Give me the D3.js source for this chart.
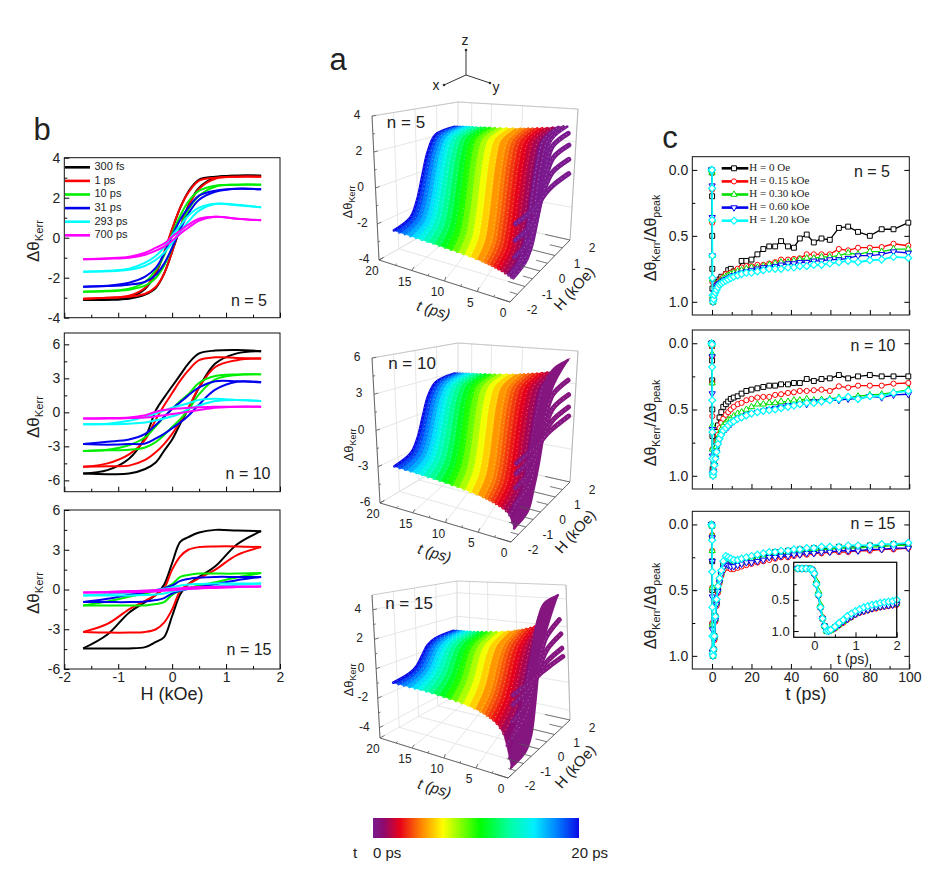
<!DOCTYPE html>
<html>
<head>
<meta charset="utf-8">
<style>
  body { margin: 0; background: #fff; }
  text { font-family: "Liberation Sans", Arial, sans-serif; fill: #222; }
</style>
<script src="https://cdn.jsdelivr.net/npm/d3@7"></script>
</head>
<body>
<script>
// panel b: hysteresis loops
var loopNames = ["300 fs", "1 ps", "10 ps", "31 ps", "293 ps", "700 ps"];
var loopColors = ["#000000", "#ff0000", "#00ee00", "#0000ee", "#00ffff", "#ff00ff"];
var bH = [-1.65, -1.2, -0.8, -0.5, -0.3, -0.15, 0, 0.15, 0.3, 0.5, 0.8, 1.2, 1.65];

var b5Up = [
  [-3.1, -3.1, -3.05, -2.85, -2.5, -1.8, -0.7, 0.5, 1.6, 2.5, 3.0, 3.1, 3.1],
  [-3.05, -3.0, -2.95, -2.8, -2.45, -1.8, -0.7, 0.5, 1.55, 2.45, 2.95, 3.05, 3.05],
  [-2.7, -2.68, -2.6, -2.4, -2.0, -1.4, -0.5, 0.5, 1.4, 2.1, 2.55, 2.65, 2.65],
  [-2.45, -2.42, -2.35, -2.2, -1.85, -1.3, -0.5, 0.4, 1.2, 1.9, 2.3, 2.45, 2.42],
  [-1.7, -1.68, -1.6, -1.4, -1.1, -0.75, -0.25, 0.3, 0.8, 1.35, 1.68, 1.62, 1.52],
  [-1.08, -1.05, -1.0, -0.85, -0.65, -0.45, -0.15, 0.2, 0.5, 0.85, 1.05, 0.95, 0.87]
];
var b5Down = [
  [-3.1, -3.1, -3.0, -2.55, -1.75, -0.8, 0.4, 1.5, 2.3, 2.9, 3.05, 3.1, 3.1],
  [-3.05, -3.0, -2.9, -2.5, -1.7, -0.75, 0.45, 1.5, 2.25, 2.85, 3.0, 3.05, 3.05],
  [-2.7, -2.65, -2.55, -2.2, -1.6, -0.9, 0.2, 1.1, 1.8, 2.35, 2.6, 2.65, 2.65],
  [-2.45, -2.4, -2.25, -1.95, -1.5, -0.8, 0.1, 0.9, 1.5, 2.1, 2.35, 2.45, 2.42],
  [-1.7, -1.65, -1.55, -1.25, -0.9, -0.5, 0.1, 0.6, 1.1, 1.5, 1.7, 1.65, 1.52],
  [-1.08, -1.03, -0.95, -0.75, -0.5, -0.3, 0.05, 0.35, 0.65, 0.95, 1.05, 0.95, 0.87]
];
var b10Up = [
  [-5.4, -5.45, -5.4, -5.0, -4.4, -3.4, -2.4, -1.0, 0.3, 2.2, 4.3, 5.2, 5.4],
  [-4.8, -4.75, -4.7, -4.2, -3.5, -2.8, -1.9, -0.8, 0.4, 2.2, 4.0, 4.6, 4.75],
  [-3.4, -3.35, -3.3, -3.1, -2.6, -2.0, -1.3, -0.6, 0.2, 1.6, 2.9, 3.3, 3.35],
  [-2.8, -2.85, -2.8, -2.75, -2.3, -1.9, -1.4, -0.9, -0.3, 0.7, 2.0, 2.7, 2.65],
  [-1.05, -1.05, -1.0, -0.9, -0.7, -0.55, -0.35, -0.1, 0.3, 0.6, 1.0, 1.1, 1.0],
  [-0.55, -0.55, -0.5, -0.45, -0.35, -0.25, -0.15, -0.05, 0.05, 0.2, 0.4, 0.5, 0.5]
];
var b10Down = [
  [-5.4, -5.1, -4.1, -2.2, 0.2, 1.3, 2.3, 3.3, 4.3, 5.2, 5.45, 5.5, 5.4],
  [-4.8, -4.5, -3.7, -2.4, -0.6, 0.6, 1.7, 2.8, 3.7, 4.6, 4.85, 4.8, 4.75],
  [-3.4, -3.3, -2.9, -2.2, -1.2, -0.4, 0.3, 1.0, 1.6, 2.6, 3.2, 3.35, 3.35],
  [-2.8, -2.6, -2.4, -1.9, -1.1, -0.4, 0.3, 0.9, 1.5, 2.2, 2.75, 2.75, 2.65],
  [-1.05, -1.0, -0.75, -0.4, -0.1, 0.15, 0.4, 0.6, 0.8, 1.1, 1.2, 1.1, 1.0],
  [-0.55, -0.5, -0.45, -0.25, 0.05, 0.2, 0.3, 0.35, 0.4, 0.45, 0.5, 0.5, 0.5]
];
var b15Up = [
  [-4.45, -4.45, -4.45, -4.35, -3.95, -3.6, -2.0, -0.35, 0.4, 0.95, 1.75, 3.4, 4.4],
  [-3.2, -3.25, -3.25, -3.2, -3.0, -2.5, -1.5, -0.1, 0.4, 0.85, 1.5, 2.6, 3.2],
  [-1.2, -1.2, -1.2, -1.2, -1.1, -0.95, -0.4, -0.1, 0.1, 0.3, 0.55, 0.9, 1.25],
  [-0.95, -0.95, -0.95, -0.9, -0.8, -0.65, -0.3, -0.1, 0.05, 0.2, 0.4, 0.7, 0.95],
  [-0.45, -0.45, -0.45, -0.42, -0.38, -0.3, -0.15, -0.05, 0.03, 0.12, 0.25, 0.35, 0.45],
  [-0.22, -0.22, -0.2, -0.18, -0.15, -0.1, -0.05, 0, 0.03, 0.08, 0.12, 0.18, 0.22]
];
var b15Down = [
  [-4.45, -3.4, -1.75, -0.95, -0.4, 0.35, 2.0, 3.6, 3.95, 4.3, 4.5, 4.45, 4.4],
  [-3.2, -2.6, -1.5, -0.85, -0.4, 0.1, 1.5, 2.5, 3.0, 3.2, 3.25, 3.25, 3.2],
  [-1.2, -0.9, -0.55, -0.3, -0.1, 0.1, 0.4, 0.95, 1.1, 1.2, 1.2, 1.2, 1.25],
  [-0.95, -0.7, -0.4, -0.2, -0.05, 0.1, 0.3, 0.65, 0.8, 0.9, 0.95, 0.95, 0.95],
  [-0.45, -0.35, -0.25, -0.12, -0.03, 0.05, 0.15, 0.3, 0.38, 0.42, 0.45, 0.45, 0.45],
  [-0.22, -0.18, -0.12, -0.08, -0.03, 0, 0.05, 0.1, 0.15, 0.18, 0.2, 0.22, 0.22]
];

// panel a: one row per delay, one column per field
var sT = [20, 19, 18, 17, 16, 15, 14, 13, 12, 11, 10, 9, 8, 7, 6, 5, 4.5, 4, 3.5, 3, 2.5, 2, 1.5, 1, 0.6, 0.3, 0.2, 0.1, 0.05, 0];
var sH = [-1.65, -0.7, -0.3, 0, 0.3, 0.7, 1.65];

var s5 = [
  [-2.40, -2.21, -1.32, 0, 1.32, 2.21, 2.40], [-2.42, -2.23, -1.33, 0, 1.33, 2.23, 2.42],
  [-2.43, -2.24, -1.34, 0, 1.34, 2.24, 2.43], [-2.45, -2.25, -1.35, 0, 1.35, 2.25, 2.45],
  [-2.46, -2.26, -1.35, 0, 1.35, 2.26, 2.46], [-2.48, -2.28, -1.36, 0, 1.36, 2.28, 2.48],
  [-2.49, -2.29, -1.37, 0, 1.37, 2.29, 2.49], [-2.50, -2.30, -1.38, 0, 1.38, 2.30, 2.50],
  [-2.52, -2.32, -1.39, 0, 1.39, 2.32, 2.52], [-2.54, -2.34, -1.40, 0, 1.40, 2.34, 2.54],
  [-2.56, -2.36, -1.41, 0, 1.41, 2.36, 2.56], [-2.58, -2.37, -1.42, 0, 1.42, 2.37, 2.58],
  [-2.60, -2.39, -1.43, 0, 1.43, 2.39, 2.60], [-2.63, -2.42, -1.45, 0, 1.45, 2.42, 2.63],
  [-2.66, -2.45, -1.46, 0, 1.46, 2.45, 2.66], [-2.70, -2.48, -1.49, 0, 1.49, 2.48, 2.70],
  [-2.72, -2.50, -1.50, 0, 1.50, 2.50, 2.72], [-2.75, -2.53, -1.51, 0, 1.51, 2.53, 2.75],
  [-2.78, -2.56, -1.53, 0, 1.53, 2.56, 2.78], [-2.82, -2.59, -1.55, 0, 1.55, 2.59, 2.82],
  [-2.86, -2.63, -1.57, 0, 1.57, 2.63, 2.86], [-2.90, -2.67, -1.60, 0, 1.60, 2.67, 2.90],
  [-2.96, -2.72, -1.63, 0, 1.63, 2.72, 2.96], [-3.03, -2.79, -1.67, 0, 1.67, 2.79, 3.03],
  [-3.09, -2.84, -1.70, 0, 1.70, 2.84, 3.09], [-3.10, -2.85, -1.71, 0, 1.71, 2.85, 3.10],
  [-2.70, -2.48, -1.49, 0, 1.49, 2.48, 2.70], [-2.00, -1.84, -1.10, 0, 1.10, 1.84, 2.00],
  [-1.15, -1.06, -0.63, 0, 0.63, 1.06, 1.15], [-0.30, -0.28, -0.17, 0, 0.17, 0.28, 0.30]
];
var s10 = [
  [-3.05, -2.75, -1.68, 0, 1.68, 2.75, 3.05], [-3.07, -2.76, -1.69, 0, 1.69, 2.76, 3.07],
  [-3.09, -2.78, -1.70, 0, 1.70, 2.78, 3.09], [-3.11, -2.80, -1.71, 0, 1.71, 2.80, 3.11],
  [-3.13, -2.82, -1.72, 0, 1.72, 2.82, 3.13], [-3.16, -2.84, -1.74, 0, 1.74, 2.84, 3.16],
  [-3.19, -2.87, -1.75, 0, 1.75, 2.87, 3.19], [-3.22, -2.90, -1.77, 0, 1.77, 2.90, 3.22],
  [-3.25, -2.93, -1.79, 0, 1.79, 2.93, 3.25], [-3.29, -2.96, -1.81, 0, 1.81, 2.96, 3.29],
  [-3.33, -3.00, -1.83, 0, 1.83, 3.00, 3.33], [-3.38, -3.04, -1.86, 0, 1.86, 3.04, 3.38],
  [-3.43, -3.09, -1.89, 0, 1.89, 3.09, 3.43], [-3.50, -3.15, -1.92, 0, 1.92, 3.15, 3.50],
  [-3.56, -3.20, -1.96, 0, 1.96, 3.20, 3.56], [-3.65, -3.28, -2.00, 0, 2.00, 3.28, 3.65],
  [-3.70, -3.33, -2.03, 0, 2.03, 3.33, 3.70], [-3.76, -3.36, -2.03, 0, 2.03, 3.36, 3.76],
  [-3.83, -3.42, -2.05, 0, 2.05, 3.42, 3.83], [-3.90, -3.48, -2.08, 0, 2.08, 3.48, 3.90],
  [-4.00, -3.55, -2.10, 0, 2.10, 3.55, 4.00], [-4.10, -3.62, -2.13, 0, 2.13, 3.62, 4.10],
  [-4.25, -3.72, -2.15, 0, 2.15, 3.72, 4.25], [-4.50, -3.90, -2.20, 0, 2.20, 3.90, 4.50],
  [-5.00, -4.25, -2.30, 0, 2.30, 4.25, 5.00], [-5.40, -4.50, -2.40, 0, 2.40, 4.50, 5.40],
  [-3.60, -3.10, -1.70, 0, 1.70, 3.10, 3.60], [-2.30, -2.00, -1.10, 0, 1.10, 2.00, 2.30],
  [-1.20, -1.00, -0.60, 0, 0.60, 1.00, 1.20], [-0.40, -0.30, -0.20, 0, 0.20, 0.30, 0.40]
];
var s15 = [
  [-1.00, -0.90, -0.60, 0, 0.60, 0.90, 1.00], [-1.01, -0.91, -0.60, 0, 0.60, 0.91, 1.01],
  [-1.02, -0.92, -0.61, 0, 0.61, 0.92, 1.02], [-1.03, -0.92, -0.61, 0, 0.61, 0.92, 1.03],
  [-1.04, -0.93, -0.60, 0, 0.60, 0.93, 1.04], [-1.05, -0.93, -0.60, 0, 0.60, 0.93, 1.05],
  [-1.07, -0.94, -0.60, 0, 0.60, 0.94, 1.07], [-1.09, -0.95, -0.60, 0, 0.60, 0.95, 1.09],
  [-1.12, -0.96, -0.60, 0, 0.60, 0.96, 1.12], [-1.16, -0.98, -0.60, 0, 0.60, 0.98, 1.16],
  [-1.20, -1.00, -0.60, 0, 0.60, 1.00, 1.20], [-1.25, -1.02, -0.60, 0, 0.60, 1.02, 1.25],
  [-1.30, -1.05, -0.61, 0, 0.61, 1.05, 1.30], [-1.36, -1.08, -0.62, 0, 0.62, 1.08, 1.36],
  [-1.45, -1.12, -0.63, 0, 0.63, 1.12, 1.45], [-1.55, -1.17, -0.65, 0, 0.65, 1.17, 1.55],
  [-1.62, -1.20, -0.66, 0, 0.66, 1.20, 1.62], [-1.70, -1.25, -0.68, 0, 0.68, 1.25, 1.70],
  [-1.80, -1.30, -0.70, 0, 0.70, 1.30, 1.80], [-1.90, -1.36, -0.72, 0, 0.72, 1.36, 1.90],
  [-2.05, -1.45, -0.75, 0, 0.75, 1.45, 2.05], [-2.25, -1.58, -0.80, 0, 0.80, 1.58, 2.25],
  [-2.55, -1.80, -0.90, 0, 0.90, 1.80, 2.55], [-3.20, -2.30, -1.10, 0, 1.10, 2.30, 3.20],
  [-3.90, -2.80, -1.40, 0, 1.40, 2.80, 3.90], [-4.40, -3.20, -1.70, 0, 1.70, 3.20, 4.40],
  [-2.70, -2.00, -1.00, 0, 1.00, 2.00, 2.70], [-1.70, -1.25, -0.65, 0, 0.65, 1.25, 1.70],
  [-0.70, -0.50, -0.27, 0, 0.27, 0.50, 0.70], [-0.12, -0.09, -0.05, 0, 0.05, 0.09, 0.12]
];

// earliest delays keep an open loop for n = 10 and n = 15
var loopT = [0.6, 0.3];
var s10LoopUp = [[-5, -4.7, -3.4, -1.8, 0.4, 3.2, 5], [-5.4, -5.2, -3.8, -2.2, 0.2, 3.5, 5.4]];
var s10LoopDown = [[-5, -3.2, -0.4, 1.8, 3.4, 4.7, 5], [-5.4, -3.5, -0.2, 2.2, 3.8, 5.2, 5.4]];
var s15LoopUp = [[-3.9, -3.7, -2.9, -1.3, 0.4, 1.9, 3.9], [-4.4, -4.3, -3.6, -1.8, 0.5, 2.1, 4.4]];
var s15LoopDown = [[-3.9, -1.9, -0.4, 1.3, 2.9, 3.7, 3.9], [-4.4, -2.1, -0.5, 1.8, 3.6, 4.3, 4.4]];

var rainbowStops = [0, 0.05, 0.13, 0.24, 0.34, 0.52, 0.66, 0.78, 0.9, 1];
var rainbowColors = ["#7a1a8e", "#8b0a70", "#e8001a", "#ff8c00", "#ffff00", "#00ff00", "#00ffa0", "#00f0ff", "#0078ff", "#0a0ae6"];

// panel c: normalised transients
var fieldNames = ["H = 0 Oe", "H = 0.15 kOe", "H = 0.30 kOe", "H = 0.60 kOe", "H = 1.20 kOe"];
var fieldColors = ["#000000", "#ff0000", "#00e000", "#0000ee", "#00ffff"];
var cTime = [-0.3, 0, 0.05, 0.1, 0.15, 0.2, 0.3, 0.5, 0.8, 1.2, 1.7, 2.3, 3, 3.8, 4.7, 5.7, 7, 8.2, 9.5, 11, 13, 15, 17.4, 20, 23, 26, 29, 32, 35, 38.5, 41.5, 44.5, 48, 51.6, 55.5, 59.7, 64.3, 69, 74, 80, 86, 92, 99.5];

var c5 = [
  [0, 0.02, 0.2, 0.5, 0.75, 0.9, 0.98, 1, .97, .93, .9, .87, .85, .83, .81, .83, .79, .76, .75, .77, .78, .69, .69, .68, .64, .60, .58, .58, .54, .58, .59, .52, .49, .55, .52, .53, .44, .43, .47, .50, .45, .45, .40],
  [0, 0.02, 0.15, 0.4, 0.65, 0.85, 0.97, 1, .96, .93, .9, .88, .86, .84, .83, .81, .79, .79, .78, .77, .75, .74, .73, .73, .72, .72, .71, .70, .68, .68, .675, .67, .64, .64, .64, .64, .60, .61, .59, .59, .585, .56, .575],
  [0, 0.02, 0.13, 0.38, 0.65, 0.83, 0.96, 1, .97, .93, .9, .88, .87, .85, .84, .82, .81, .80, .79, .78, .77, .76, .75, .74, .74, .73, .72, .71, .70, .70, .69, .68, .67, .67, .66, .66, .65, .63, .64, .62, .62, .60, .60],
  [0, 0.01, 0.12, 0.36, 0.65, 0.83, 0.96, 1, .97, .93, .9, .88, .87, .86, .85, .84, .83, .82, .81, .80, .79, .78, .77, .76, .75, .74, .74, .73, .72, .71, .71, .70, .70, .69, .69, .68, .68, .67, .65, .65, .64, .62, .63],
  [0, 0, 0.14, 0.38, 0.65, 0.82, 0.95, 1, .98, .95, .93, .91, .89, .87, .86, .85, .84, .83, .82, .81, .80, .79, .78, .78, .77, .76, .75, .75, .75, .74, .74, .73, .73, .72, .72, .71, .70, .69, .70, .685, .68, .66, .667]
];
var c10 = [
  [0, 0.02, 0.13, 0.28, 0.5, 0.7, 0.95, .98, .9, .82, .74, .67, .62, .56, .52, .48, .46, .44, .42, .41, .4, .38, .36, .35, .34, .33, .32, .32, .31, .31, .3, .3, .27, .285, .27, .265, .24, .265, .25, .24, .25, .25, .25],
  [0, 0.02, 0.1, 0.3, 0.55, 0.8, 0.97, 1, .95, .87, .8, .74, .69, .64, .6, .57, .54, .52, .5, .48, .46, .45, .43, .42, .41, .405, .405, .39, .385, .375, .37, .36, .36, .355, .35, .36, .325, .335, .32, .32, .32, .305, .30],
  [0, 0.01, 0.08, 0.3, 0.62, 0.8, 0.97, 1, .96, .9, .84, .78, .73, .69, .65, .62, .6, .58, .57, .55, .53, .52, .5, .48, .46, .46, .45, .45, .44, .44, .43, .43, .42, .43, .425, .42, .41, .41, .40, .39, .385, .37, .35],
  [0, 0.01, 0.1, 0.38, 0.65, 0.85, 0.98, 1, .97, .92, .87, .82, .77, .73, .7, .67, .65, .63, .61, .59, .57, .56, .54, .53, .52, .51, .5, .49, .48, .47, .47, .46, .46, .44, .44, .43, .43, .42, .42, .4, .41, .39, .385],
  [0, 0.01, 0.18, 0.43, 0.67, 0.87, 0.98, 1, .97, .92, .87, .82, .76, .72, .69, .66, .64, .62, .6, .59, .57, .56, .545, .53, .52, .51, .505, .5, .49, .48, .47, .46, .45, .45, .44, .43, .42, .405, .42, .4, .4, .375, .36]
];
var c15 = [
  [0, 0.01, 0.1, 0.28, 0.5, 0.76, 0.97, 1, .95, .85, .7, .58, .48, .42, .36, .3, .26, .27, .28, .28, .27, .27, .26, .25, .24, .23, .22, .21, .21, .2, .2, .19, .19, .18, .18, .18, .17, .17, .17, .16, .16, .15, .15],
  [0, 0.01, 0.08, 0.2, 0.48, 0.75, 0.97, 1, .96, .88, .74, .62, .52, .45, .39, .35, .33, .33, .34, .34, .33, .32, .31, .3, .29, .28, .27, .26, .25, .25, .24, .23, .23, .22, .22, .21, .21, .21, .2, .2, .19, .19, .18],
  [0, 0.01, 0.08, 0.2, 0.48, 0.76, 0.97, 1, .95, .86, .72, .6, .5, .43, .37, .32, .29, .3, .31, .31, .3, .29, .28, .27, .26, .25, .24, .23, .23, .22, .21, .21, .2, .2, .19, .19, .18, .18, .18, .17, .17, .16, .16],
  [0, 0.01, 0.1, 0.28, 0.55, 0.8, 0.97, 1, .96, .87, .73, .61, .51, .44, .38, .33, .3, .31, .32, .32, .31, .3, .29, .29, .28, .27, .25, .25, .24, .24, .23, .23, .22, .22, .21, .21, .2, .2, .2, .19, .19, .18, .18],
  [0, 0.01, 0.12, 0.36, 0.63, 0.85, 0.98, 1, .95, .85, .7, .57, .47, .41, .35, .28, .24, .25, .26, .27, .27, .26, .25, .24, .23, .22, .21, .21, .2, .2, .19, .19, .18, .18, .17, .17, .17, .16, .16, .16, .15, .15, .14]
];

var insetTime = [-0.4, -0.3, -0.2, -0.1, -0.05, 0, 0.05, 0.1, 0.15, 0.2, 0.25, 0.3, 0.35, 0.4, 0.5, 0.6, 0.7, 0.8, 0.9, 1, 1.1, 1.2, 1.3, 1.4, 1.5, 1.6, 1.7, 1.8, 1.9, 2];
var inset15 = [
  [0, 0, 0, 0, 0.02, 0.08, 0.24, 0.42, 0.62, 0.8, 0.92, 1, 0.99, 0.98, 0.94, 0.89, 0.84, 0.79, 0.75, 0.71, 0.68, 0.66, 0.64, 0.62, 0.61, 0.59, 0.58, 0.57, 0.56, 0.55],
  [0, 0, 0, 0, 0.02, 0.08, 0.22, 0.4, 0.6, 0.78, 0.92, 1, 1, 0.99, 0.96, 0.91, 0.87, 0.82, 0.78, 0.74, 0.71, 0.69, 0.67, 0.65, 0.64, 0.62, 0.61, 0.6, 0.59, 0.58],
  [0, 0, 0, 0, 0.02, 0.06, 0.2, 0.36, 0.58, 0.78, 0.92, 1, 1, 0.99, 0.95, 0.9, 0.85, 0.8, 0.76, 0.72, 0.69, 0.67, 0.65, 0.63, 0.62, 0.6, 0.59, 0.58, 0.57, 0.56],
  [0, 0, 0, 0, 0.03, 0.1, 0.26, 0.44, 0.64, 0.8, 0.92, 1, 1, 0.98, 0.95, 0.9, 0.85, 0.81, 0.77, 0.73, 0.7, 0.68, 0.66, 0.64, 0.62, 0.61, 0.6, 0.59, 0.58, 0.57],
  [0, 0, 0, 0.01, 0.02, 0.08, 0.25, 0.42, 0.62, 0.8, 0.92, 1, 0.99, 0.98, 0.93, 0.87, 0.82, 0.76, 0.72, 0.68, 0.65, 0.62, 0.6, 0.58, 0.57, 0.55, 0.54, 0.53, 0.52, 0.5]
];

var svg = d3.select("body").append("svg").attr("width", 934).attr("height", 873);
svg.append("rect").attr("width", 934).attr("height", 873).attr("fill", "#fff");

function label(x, y, str, size, anchor) {
  return svg.append("text").attr("x", x).attr("y", y).attr("font-size", size)
    .attr("text-anchor", anchor || "middle").attr("dominant-baseline", "middle").text(str);
}

// frame with inward ticks, box = [left, top, right, bottom]
function plotFrame(g, box, xDom, yDom, xMajor, xMinor, yMajor, yMinor, showX, yFmt, size) {
  var x = d3.scaleLinear().domain(xDom).range([box[0], box[2]]);
  var y = d3.scaleLinear().domain(yDom).range([box[3], box[1]]);
  var gx = g.append("g").attr("transform", "translate(0," + box[3] + ")");
  gx.call(d3.axisBottom(x).tickValues(xMajor).tickSize(-5).tickPadding(3).tickFormat(showX ? function(d) { return d; } : ""));
  var gxm = g.append("g").attr("transform", "translate(0," + box[3] + ")");
  gxm.call(d3.axisBottom(x).tickValues(xMinor).tickSize(-3).tickFormat(""));
  var gy = g.append("g").attr("transform", "translate(" + box[0] + ",0)");
  gy.call(d3.axisLeft(y).tickValues(yMajor).tickSize(-5).tickPadding(4).tickFormat(yFmt));
  var gym = g.append("g").attr("transform", "translate(" + box[0] + ",0)");
  gym.call(d3.axisLeft(y).tickValues(yMinor).tickSize(-3).tickFormat(""));
  g.selectAll(".domain").remove();
  g.selectAll("text").attr("font-size", size || 14).attr("fill", "#222").style("font-family", "Liberation Sans");
  g.append("rect").attr("x", box[0]).attr("y", box[1]).attr("width", box[2] - box[0]).attr("height", box[3] - box[1])
    .attr("fill", "none").attr("stroke", "#111").attr("stroke-width", 1);
  return { x: x, y: y };
}

function kerrTitle(x, y, size, suffix) {
  var t = svg.append("text").attr("transform", "translate(" + x + "," + y + ") rotate(-90)")
    .attr("text-anchor", "middle").attr("font-size", size).attr("fill", "#333");
  t.append("tspan").text("Δθ");
  t.append("tspan").attr("dy", 4).attr("font-size", size * 0.66).text("Kerr");
  if (suffix) {
    t.append("tspan").attr("dy", -4).text("/Δθ");
    t.append("tspan").attr("dy", 4).attr("font-size", size * 0.66).text(suffix);
  }
}

// ---- panel b
function drawLoops(box, yDom, yMajor, yMinor, up, down, showX) {
  var g = svg.append("g");
  var p = plotFrame(g, box, [-2, 2], yDom, [-2, -1, 0, 1, 2], [-1.5, -0.5, 0.5, 1.5], yMajor, yMinor, showX, function(d) { return d; });
  var line = d3.line().x(function(d, i) { return p.x(bH[i]); }).y(function(d) { return p.y(d); }).curve(d3.curveCatmullRom);
  up.forEach(function(vals, i) {
    [vals, down[i]].forEach(function(v) {
      g.append("path").attr("d", line(v)).attr("fill", "none").attr("stroke", loopColors[i]).attr("stroke-width", 2);
    });
  });
}
drawLoops([64.3, 157.7, 280, 317.7], [-4, 4], [-4, -2, 0, 2, 4], [-3, -1, 1, 3], b5Up, b5Down, false);
drawLoops([64.3, 333, 280, 491.7], [-7, 7], [-6, -3, 0, 3, 6], [-4.5, -1.5, 1.5, 4.5], b10Up, b10Down, false);
drawLoops([64.3, 510, 280, 669], [-6, 6], [-6, -3, 0, 3, 6], [-4.5, -1.5, 1.5, 4.5], b15Up, b15Down, true);

loopNames.forEach(function(name, i) {
  var y = 167.3 + i * 13.6;
  svg.append("line").attr("x1", 65).attr("x2", 90).attr("y1", y).attr("y2", y).attr("stroke", loopColors[i]).attr("stroke-width", 2.6);
  label(94.5, y, name, 11, "start");
});
label(42, 132, "b", 31);
label(249, 302, "n = 5", 16);
label(248, 475, "n = 10", 16);
label(249, 651, "n = 15", 16);
kerrTitle(39, 241, 17);
kerrTitle(39, 417, 17);
kerrTitle(39, 593, 17);
label(172, 695, "H (kOe)", 18);

// ---- panel a
var rainbow = d3.scaleLinear().domain(rainbowStops.map(function(d) { return d * 20; })).range(rainbowColors);
var surfaceReach = 0.92;   // data stop short of the t = 20 wall

function drawCube(cfg) {
  var g = svg.append("g");
  var uScale = d3.scaleLinear().domain([0, 20]).range([0, 1]);
  var vScale = d3.scaleLinear().domain([-2, 2]).range([0, 1]);
  var wScale = d3.scaleLinear().domain(cfg.zDom).range([0, 1]);
  var zMin = cfg.zDom[0], zMax = cfg.zDom[1];
  var k = cfg.corners;

  function project(t, h, z) {
    var u = uScale(t), v = vScale(h), w = wScale(z);
    var a = 1 + 1.57 * v;
    u = u * a / (1 - u + u * a);   // far end squeezed by perspective
    function mix(i) {
      var near = (k.b[i] * (1 - v) + k.c[i] * v) * (1 - w) + (k.bt[i] * (1 - v) + k.ct[i] * v) * w;
      var far = (k.a[i] * (1 - v) + k.d[i] * v) * (1 - w) + (k.at[i] * (1 - v) + k.dt[i] * v) * w;
      return near * (1 - u) + far * u;
    }
    return [mix(0), mix(1)];
  }
  function seg(p, q, color, width) {
    var a = project(p[0], p[1], p[2]), b = project(q[0], q[1], q[2]);
    g.append("line").attr("x1", a[0]).attr("y1", a[1]).attr("x2", b[0]).attr("y2", b[1])
      .attr("stroke", color).attr("stroke-width", width);
  }

  var grid = "#e0e0e0";
  [0, 5, 10, 15, 20].forEach(function(t) {
    seg([t, -2, zMin], [t, 2, zMin], grid, 0.8);
    seg([t, 2, zMin], [t, 2, zMax], grid, 0.8);
  });
  [-2, -1, 0, 1, 2].forEach(function(h) {
    seg([0, h, zMin], [20, h, zMin], grid, 0.8);
    seg([20, h, zMin], [20, h, zMax], grid, 0.8);
  });
  cfg.zTicks.forEach(function(z) {
    seg([20, -2, z], [20, 2, z], grid, 0.8);
    seg([20, 2, z], [0, 2, z], grid, 0.8);
  });
  seg([20, -2, zMax], [20, 2, zMax], "#c4c4c4", 0.9);
  seg([20, 2, zMax], [0, 2, zMax], "#c4c4c4", 0.9);
  seg([0, 2, zMax], [0, 2, zMin], "#b0b0b0", 0.9);
  seg([20, -2, zMin], [20, -2, zMax], "#666", 1);
  seg([20, -2, zMin], [0, -2, zMin], "#666", 1);
  seg([0, -2, zMin], [0, 2, zMin], "#666", 1);

  // rows back to front
  var line = d3.line().x(function(d) { return d[0]; }).y(function(d) { return d[1]; }).curve(d3.curveCatmullRom);
  var pts = sT.map(function(t, i) {
    return cfg.rows[i].map(function(z, j) { return project(t * surfaceReach, sH[j], z); });
  });
  function rowPts(t, vals) {
    return vals.map(function(z, j) { return project(t * surfaceReach, sH[j], z); });
  }
  sT.forEach(function(t, i) {
    var color = t < 1.2 ? cfg.front : rainbow(t);
    if (t >= 0.3 && i + 1 < sT.length && sT[i + 1] >= 0.3) {
      var back = pts[i].slice().reverse();
      var d = line(pts[i + 1]) + "L" + line(back).slice(1) + "Z";
      g.append("path").attr("d", d).attr("fill", rainbow(sT[i + 1])).attr("stroke", rainbow(sT[i + 1])).attr("stroke-width", 0.7);
    }
    g.append("path").attr("d", line(pts[i])).attr("fill", "none").attr("stroke", color)
      .attr("stroke-width", t >= 0.3 ? 2.6 : 5).attr("stroke-linecap", "round");
    g.append("path").attr("d", line(pts[i])).attr("fill", "none").attr("stroke", "#fff").attr("stroke-opacity", 0.45)
      .attr("stroke-width", 0.9).attr("stroke-dasharray", "0.9 3.4");
    if (t == 0.3) {
      cfg.loopUp.forEach(function(vals, j) {
        var a = rowPts(loopT[j], vals), b = rowPts(loopT[j], cfg.loopDown[j]).reverse();
        g.append("path").attr("d", line(a) + "L" + line(b).slice(1) + "Z").attr("fill", cfg.front)
          .attr("stroke", cfg.front).attr("stroke-width", 2);
      });
    }
  });

  // axes
  function tick(p, q, str, dx, dy, size) {
    var a = project(p[0], p[1], p[2]), b = project(q[0], q[1], q[2]);
    g.append("line").attr("x1", a[0]).attr("y1", a[1]).attr("x2", b[0]).attr("y2", b[1]).attr("stroke", "#555").attr("stroke-width", 0.8);
    if (str !== null) {
      g.append("text").attr("x", a[0] + dx).attr("y", a[1] + dy).attr("text-anchor", "middle")
        .attr("dominant-baseline", "middle").attr("font-size", size).attr("fill", "#444").text(str);
    }
  }
  [2.5, 7.5, 12.5, 17.5].forEach(function(t) { tick([t, -2, zMin], [t, -1.88, zMin], null); });
  [0, 5, 10, 15, 20].forEach(function(t) { tick([t, -2, zMin], [t, -1.76, zMin], t, -7, 12, 12); });
  [-1.5, -0.5, 0.5, 1.5].forEach(function(h) { tick([0, h, zMin], [1, h, zMin], null); });
  [-2, -1, 0, 1, 2].forEach(function(h) { tick([0, h, zMin], [2, h, zMin], h, 22, 9, 12); });
  cfg.zMinor.forEach(function(z) { tick([20, -2, z], [20, -1.9, z], null); });
  cfg.zTicks.forEach(function(z) { tick([20, -2, z], [20, -1.8, z], z, -15, 0, 12); });

  var o = k.a;
  svg.append("text").attr("transform", "translate(" + (o[0] + 53) + "," + (o[1] + 55) + ") rotate(17)").attr("text-anchor", "middle")
    .attr("font-size", 15).attr("font-style", "italic").attr("fill", "#444").text("t (ps)");
  svg.append("text").attr("transform", "translate(" + (o[0] + 199) + "," + (o[1] + 32) + ") rotate(-48)").attr("text-anchor", "middle")
    .attr("font-size", 15).attr("fill", "#444").text("H (kOe)");
  var t = svg.append("text").attr("transform", "translate(" + (o[0] - 27) + "," + (o[1] - 58) + ") rotate(-90)")
    .attr("text-anchor", "middle").attr("font-size", 13).attr("fill", "#444");
  t.append("tspan").text("Δθ");
  t.append("tspan").attr("dy", 3).attr("font-size", 9).text("Kerr");
  label(cfg.nPos[0], cfg.nPos[1], cfg.nText, 17).attr("fill", "#444");
}

drawCube({
  corners: { a: [379, 260], at: [372, 116], b: [510, 302], bt: [510, 142], c: [570, 240], ct: [578, 109], d: [458, 215], dt: [458, 102] },
  zDom: [-4, 4], zTicks: [-4, -2, 0, 2, 4], zMinor: [-3, -1, 1, 3], rows: s5, loopUp: [], loopDown: [], front: "#7a1a8e", nPos: [406, 124], nText: "n = 5"
});
drawCube({
  corners: { a: [380, 503], at: [372, 358], b: [511, 542], bt: [511, 382], c: [570, 482], ct: [578, 351], d: [458, 457], dt: [458, 343] },
  zDom: [-6, 6], zTicks: [-6, -3, 0, 3, 6], zMinor: [-4.5, -1.5, 1.5, 4.5], rows: s10, loopUp: s10LoopUp, loopDown: s10LoopDown, front: "#85157f", nPos: [412, 365], nText: "n = 10"
});
drawCube({
  corners: { a: [380, 738], at: [372, 595], b: [508, 778], bt: [508, 610], c: [570, 720], ct: [566, 585], d: [457, 695], dt: [457, 581] },
  zDom: [-4.7, 5], zTicks: [-4, -2, 0, 2, 4], zMinor: [-3, -1, 1, 3], rows: s15, loopUp: s15LoopUp, loopDown: s15LoopDown, front: "#85157f", nPos: [409, 605], nText: "n = 15"
});

label(338, 62, "a", 31);

// xyz triad
var triad = [[466, 75, 466, 50], [466, 75, 444, 85], [466, 75, 490, 83]];
svg.selectAll(".triad").data(triad).enter().append("line").attr("class", "triad")
  .attr("x1", function(d) { return d[0]; }).attr("y1", function(d) { return d[1]; })
  .attr("x2", function(d) { return d[2]; }).attr("y2", function(d) { return d[3]; })
  .attr("stroke", "#333").attr("stroke-width", 1);
svg.selectAll(".tip").data(triad).enter().append("circle").attr("class", "tip")
  .attr("cx", function(d) { return d[2]; }).attr("cy", function(d) { return d[3]; })
  .attr("r", 1.3).attr("fill", "#333");
label(465, 41, "z", 14);
label(436, 86, "x", 14);
label(496, 88, "y", 14);

// colour bar
var defs = svg.append("defs");
var grad = defs.append("linearGradient").attr("id", "rainbowBar");
rainbowStops.forEach(function(s, i) {
  grad.append("stop").attr("offset", s).attr("stop-color", rainbowColors[i]);
});
svg.append("rect").attr("x", 373).attr("y", 818).attr("width", 206).attr("height", 20).attr("fill", "url(#rainbowBar)");
label(355, 854, "t", 15);
label(373, 854, "0 ps", 15, "start");
label(608, 854, "20 ps", 15, "end");

// ---- panel c
var fieldSymbols = [d3.symbolSquare, d3.symbolCircle, d3.symbolTriangle, d3.symbolTriangle, d3.symbolSquare];
var fieldRotate = [0, 0, 0, 180, 45];
var fieldSizes = [24, 21, 17, 17, 24];

function marker(sel, i) {
  sel.attr("d", d3.symbol().type(fieldSymbols[i]).size(fieldSizes[i])())
    .attr("fill", "#fff").attr("stroke", fieldColors[i]).attr("stroke-width", i == 4 ? 1.2 : 1);
}

function drawTraces(g, p, times, series) {
  series.forEach(function(vals, i) {
    var line = d3.line().x(function(d, j) { return p.x(times[j]); }).y(function(d) { return p.y(d); });
    g.append("path").attr("d", line(vals)).attr("fill", "none").attr("stroke", fieldColors[i]).attr("stroke-width", i == 4 ? 1.8 : 1.3);
    g.selectAll(".m" + i).data(vals).enter().append("path").attr("class", "m" + i)
      .call(marker, i)
      .attr("transform", function(d, j) {
        return "translate(" + p.x(times[j]) + "," + p.y(d) + ") rotate(" + fieldRotate[i] + ")";
      });
  });
}

var f1 = d3.format(".1f");
function drawDecay(box, series, showX) {
  var g = svg.append("g");
  var p = plotFrame(g, box, [-10, 100], [1.1, -0.1], [0, 20, 40, 60, 80, 100], [10, 30, 50, 70, 90], [0, 0.5, 1], [0.25, 0.75], showX, f1);
  var side = g.append("g").attr("transform", "translate(" + box[2] + ",0)");
  side.call(d3.axisRight(p.y).tickValues([0, 0.5, 1]).tickSize(-5).tickFormat(""));
  side.select(".domain").remove();
  drawTraces(g, p, cTime, series);
}
drawDecay([692.3, 156.7, 909.3, 315], c5, false);
drawDecay([692.3, 330, 909.3, 489], c10, false);
drawDecay([692.3, 511.3, 909.3, 669], c15, true);

fieldNames.forEach(function(name, i) {
  var y = 168.3 + i * 13.1;
  svg.append("line").attr("x1", 721.7).attr("x2", 748.3).attr("y1", y).attr("y2", y).attr("stroke", fieldColors[i]).attr("stroke-width", 2.6);
  svg.append("path").call(marker, i).attr("transform", "translate(734," + y + ") rotate(" + fieldRotate[i] + ")");
  label(749.3, y, name, 11, "start").style("font-family", "Liberation Serif");
});

var gi = svg.append("g");
var pi = plotFrame(gi, [793.7, 562.3, 896.7, 637.3], [-0.5, 2], [1.1, -0.1], [0, 1, 2], [0.5, 1.5], [0, 0.5, 1], [0.25, 0.75], true, f1, 13);
gi.selectAll(".tick text").attr("fill", "#222");
drawTraces(gi, pi, insetTime, inset15);
gi.append("rect").attr("x", 793.7).attr("y", 562.3).attr("width", 103).attr("height", 75).attr("fill", "none").attr("stroke", "#111");

label(670, 140, "c", 31);
label(872, 173, "n = 5", 16);
label(873, 347, "n = 10", 16);
label(873, 525, "n = 15", 16);
label(853, 660, "t (ps)", 14).attr("fill", "#555");
label(806, 695, "t (ps)", 18);
kerrTitle(656, 238, 16, "peak");
kerrTitle(656, 423, 16, "peak");
kerrTitle(656, 606, 16, "peak");
</script>
</body>
</html>
